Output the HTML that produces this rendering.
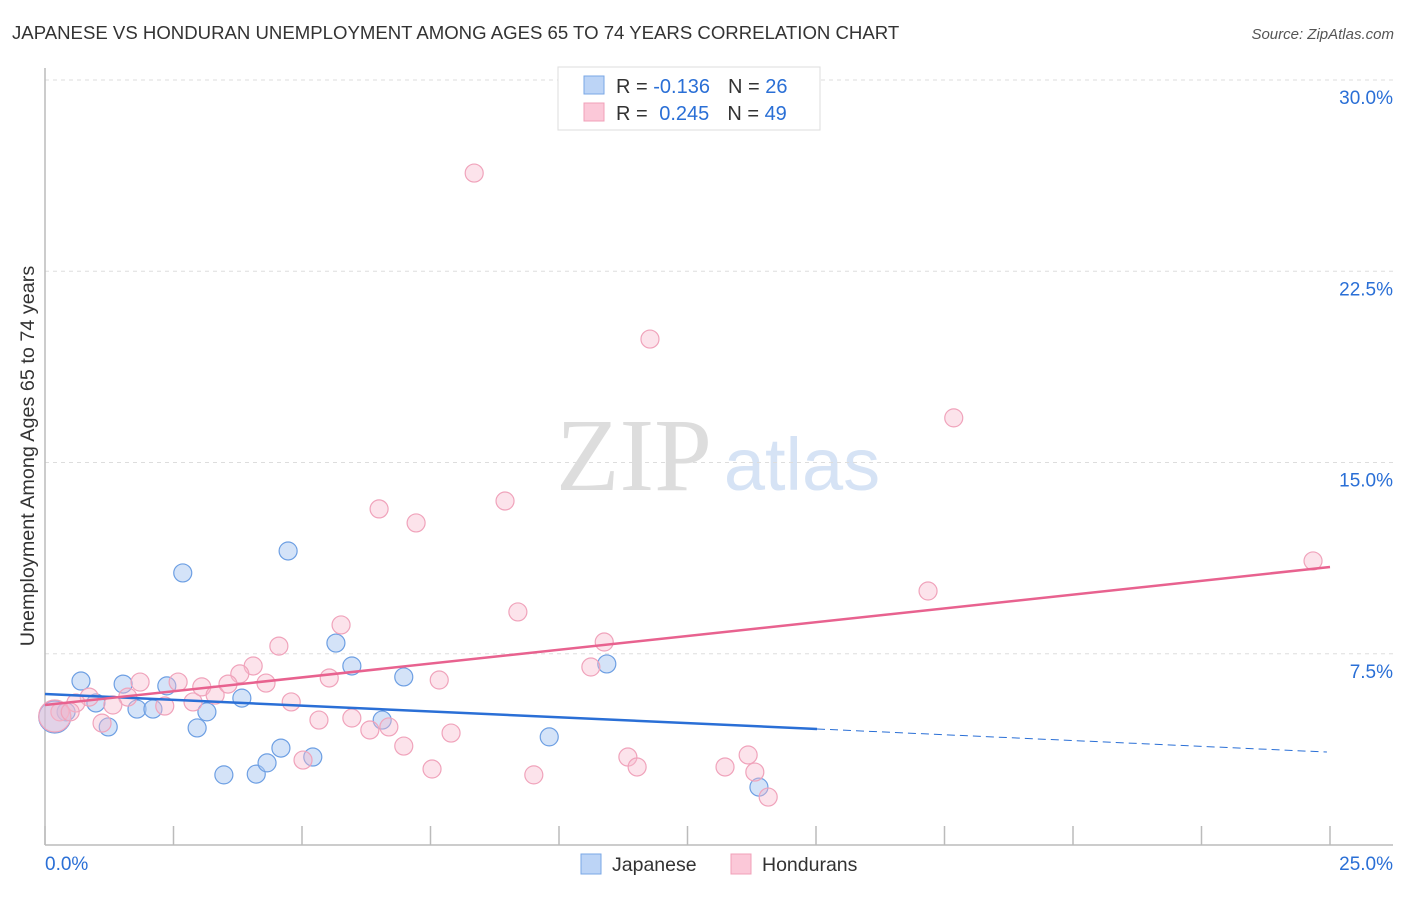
<!DOCTYPE html>
<html><head><meta charset="utf-8"><style>
body{margin:0;background:#fff;font-family:"Liberation Sans",sans-serif;}
svg text{font-family:"Liberation Sans",sans-serif;}
</style></head><body>
<svg id="c" width="1406" height="892" xmlns="http://www.w3.org/2000/svg">
<text x="12" y="39" font-size="18.6" fill="#333">JAPANESE VS HONDURAN UNEMPLOYMENT AMONG AGES 65 TO 74 YEARS CORRELATION CHART</text>
<text x="1394" y="39" font-size="15" fill="#555" font-style="italic" text-anchor="end">Source: ZipAtlas.com</text>
<g>
<text x="634" y="490" font-size="104" fill="#ddd" text-anchor="middle" style="font-family:'Liberation Serif',serif">ZIP</text>
<text x="802" y="490" font-size="74" fill="#d6e3f5" text-anchor="middle">atlas</text>
</g>
<g id="grid"></g>
<g id="axes"></g>
<g id="pts"></g>
<g id="lines"></g>
<text transform="translate(34,456) rotate(-90)" font-size="19.8" fill="#333" text-anchor="middle">Unemployment Among Ages 65 to 74 years</text>
<g>
<rect x="558" y="67" width="262" height="63" fill="#fff" stroke="#ddd"/>
<rect x="584" y="76" width="20" height="18" fill="#bcd4f6" stroke="#7aa7e6"/>
<rect x="584" y="103" width="20" height="18" fill="#fbc8d8" stroke="#f0a0b8"/>
<text x="616" y="93" font-size="20" fill="#333">R = <tspan fill="#2a6fd6">-0.136</tspan><tspan dx="18">N = </tspan><tspan fill="#2a6fd6">26</tspan></text>
<text x="616" y="120" font-size="20" fill="#333">R = <tspan fill="#2a6fd6" dx="6">0.245</tspan><tspan dx="18">N = </tspan><tspan fill="#2a6fd6">49</tspan></text>
</g>
<g>
<rect x="581" y="854" width="20" height="20" fill="#bcd4f6" stroke="#7aa7e6"/>
<text x="612" y="871" font-size="19.5" fill="#333">Japanese</text>
<rect x="731" y="854" width="20" height="20" fill="#fbc8d8" stroke="#f0a0b8"/>
<text x="762" y="871" font-size="19.5" fill="#333">Hondurans</text>
</g>
</svg>
<script>
const yTicks=[7.5,15,22.5,30];
const yTickLabels=["7.5%","15.0%","22.5%","30.0%"];
const xTicks=[0,2.5,5,7.5,10,12.5,15,17.5,20,22.5,25];
const japX=[0.70,1.52,0.99,1.23,1.79,2.10,2.37,2.68,2.96,3.15,3.48,3.83,4.11,4.32,4.59,4.73,5.21,5.66,5.97,6.56,6.98,9.81,10.93,13.89,0.41,0.19];
const japY=[6.43,6.31,5.57,4.63,5.33,5.33,6.24,10.67,4.59,5.22,2.75,5.76,2.78,3.22,3.80,11.53,3.45,7.92,7.02,4.90,6.59,4.24,7.10,2.27,5.22,5.02];
const honX=[8.35,11.77,17.68,24.67,17.18,8.95,6.50,7.22,9.20,5.76,4.55,10.88,10.62,4.05,3.79,2.59,1.85,0.86,0.60,1.61,2.33,2.88,3.05,3.31,3.56,4.30,4.79,5.53,5.33,5.97,6.32,6.69,6.98,7.67,7.90,7.53,5.02,9.51,11.34,11.52,13.23,13.68,13.81,14.07,1.11,1.32,0.29,0.19,0.49];
const honY=[26.35,19.84,16.75,11.14,9.96,13.49,13.18,12.63,9.14,8.63,7.80,7.96,6.98,7.02,6.71,6.39,6.39,5.80,5.57,5.80,5.45,5.61,6.20,5.88,6.31,6.35,5.61,6.55,4.90,4.98,4.51,4.63,3.88,6.47,4.39,2.98,3.33,2.75,3.45,3.06,3.06,3.53,2.86,1.88,4.78,5.49,5.22,5.06,5.22];
const japTrend=[5.92,-0.0912];
const honTrend=[5.49,0.2165];
const xs=v=>45+v*51.4, ys=v=>845-v*25.5;
const NS="http://www.w3.org/2000/svg";
function mk(tag,a,parent){const e=document.createElementNS(NS,tag);for(const k in a)e.setAttribute(k,a[k]);document.getElementById(parent).appendChild(e);return e;}
yTicks.forEach((t,i)=>{
 const l=mk('line',{x1:45,x2:1393,y1:ys(t),y2:ys(t),stroke:'#ddd','stroke-dasharray':'4,4'},'grid');
 
 
 const tx=mk('text',{x:1393,y:ys(t)+24,'font-size':19,fill:'#2a6fd6','text-anchor':'end'},'grid');
 tx.textContent=yTickLabels[i];
 
 
});
let a=mk('line',{x1:45,x2:45,y1:68,y2:845,stroke:'#bbb','stroke-width':1.5},'axes');


a=mk('line',{x1:45,x2:1393,y1:845,y2:845,stroke:'#bbb','stroke-width':1.5},'axes');


xTicks.forEach(t=>{const l=mk('line',{x1:xs(t),x2:xs(t),y1:826,y2:845,stroke:'#bbb','stroke-width':1.5},'axes');
 
 });
let t=mk('text',{x:45,y:870,'font-size':19,fill:'#2a6fd6'},'axes');t.textContent='0.0%';


t=mk('text',{x:1393,y:870,'font-size':19,fill:'#2a6fd6','text-anchor':'end'},'axes');t.textContent='25.0%';


japX.forEach((x,i)=>{const c=mk('circle',{cx:xs(x),cy:ys(japY[i]),r:i==japX.length-1?16:9,fill:'rgba(170,200,242,0.5)',stroke:'#6d9fe3','stroke-width':1.2},'pts');
 
 });
honX.forEach((x,i)=>{const c=mk('circle',{cx:xs(x),cy:ys(honY[i]),r:i==honX.length-2?16:9,fill:'rgba(248,185,205,0.4)',stroke:'#f0a3bb','stroke-width':1.2},'pts');
 
 });
let ln=mk('line',{x1:xs(0),y1:ys(japTrend[0]),x2:xs(15.02),y2:ys(japTrend[0]+japTrend[1]*15.02),stroke:'#2a6fd6','stroke-width':2.5},'lines');


ln=mk('line',{x1:xs(15.02),y1:ys(japTrend[0]+japTrend[1]*15.02),x2:xs(24.94),y2:ys(japTrend[0]+japTrend[1]*24.94),stroke:'#2a6fd6','stroke-width':1,'stroke-dasharray':'8,5'},'lines');


ln=mk('line',{x1:xs(0),y1:ys(honTrend[0]),x2:xs(25),y2:ys(honTrend[0]+honTrend[1]*25),stroke:'#e8628f','stroke-width':2.5},'lines');


</script>
</body></html>
